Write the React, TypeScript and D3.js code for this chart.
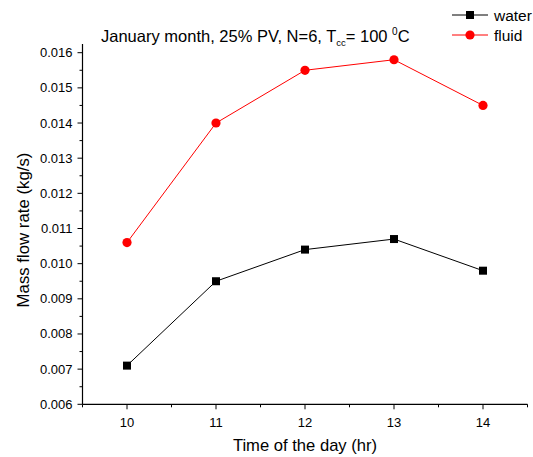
import React from "react";
import * as d3 from "d3";

const hours = [10, 11, 12, 13, 14];
const water = [0.0071, 0.0095, 0.0104, 0.0107, 0.0098];
const fluid = [0.0106, 0.014, 0.0155, 0.0158, 0.0145];
const xTicks = [10, 11, 12, 13, 14];
const yTicks = [0.006, 0.007, 0.008, 0.009, 0.01, 0.011, 0.012, 0.013, 0.014, 0.015, 0.016];

const W = 533;
const H = 457;
const font = "Arial, 'Liberation Sans', sans-serif";

export default function App() {
  const x = d3.scaleLinear().domain([9.5, 14.5]).range([82.5, 527.5]);
  const y = d3.scaleLinear().domain([0.006, 0.016]).range([404.3, 52.7]);
  const yTop = y(0.01625);
  const line = d3
    .line<number>()
    .x((_, i) => x(hours[i]))
    .y((d) => y(d));
  const xMinor = d3.range(9.5, 14.51, 0.5);
  const yMinor = d3.range(0.0065, 0.0161, 0.001);

  return (
    <div style={{ position: "absolute", left: 0, top: 0 }}>
      <svg width={W} height={H} style={{ display: "block", background: "#fff" }} fontFamily={font}>
        {/* axes */}
        <line x1={x.range()[0]} x2={x.range()[1]} y1={y(0.006)} y2={y(0.006)} stroke="#000" strokeWidth={1.2} />
        <line x1={x.range()[0]} x2={x.range()[0]} y1={y(0.006)} y2={yTop} stroke="#000" strokeWidth={1.2} />
        {xTicks.map((t) => (
          <g key={"xt" + t}>
            <line x1={x(t)} x2={x(t)} y1={y(0.006)} y2={y(0.006) + 5} stroke="#000" />
            <text x={x(t)} y={y(0.006) + 23} fontSize={13} textAnchor="middle">
              {t}
            </text>
          </g>
        ))}
        {xMinor
          .filter((t) => !xTicks.includes(t))
          .map((t) => (
            <line key={"xm" + t} x1={x(t)} x2={x(t)} y1={y(0.006)} y2={y(0.006) + 3} stroke="#000" />
          ))}
        {yTicks.map((t) => (
          <g key={"yt" + t}>
            <line x1={x.range()[0]} x2={x.range()[0] - 5} y1={y(t)} y2={y(t)} stroke="#000" />
            <text x={x.range()[0] - 10} y={y(t) + 4.5} fontSize={13} textAnchor="end">
              {t.toFixed(3)}
            </text>
          </g>
        ))}
        {yMinor.map((t) => (
          <line key={"ym" + t} x1={x.range()[0]} x2={x.range()[0] - 3} y1={y(t)} y2={y(t)} stroke="#000" />
        ))}
        {/* axis titles */}
        <text x={305} y={451} fontSize={16.6} textAnchor="middle">
          Time of the day (hr)
        </text>
        <text transform={`translate(29, 230) rotate(-90)`} fontSize={16.8} textAnchor="middle">
          Mass flow rate (kg/s)
        </text>
        {/* title */}
        <text x={101} y={41.5} fontSize={16.5}>
          January month, 25% PV, N=6, T
          <tspan fontSize={9.5} dy={4}>cc</tspan>
          <tspan dy={-4}>= 100 </tspan>
          <tspan fontSize={10} dy={-7}>0</tspan>
          <tspan dy={7}>C</tspan>
        </text>
        {/* series */}
        <path d={line(water) || ""} fill="none" stroke="#000" strokeWidth={1} />
        <path d={line(fluid) || ""} fill="none" stroke="#ff0000" strokeWidth={1} />
        {water.map((v, i) => (
          <rect key={"w" + i} x={x(hours[i]) - 4} y={y(v) - 4} width={8} height={8} fill="#000" />
        ))}
        {fluid.map((v, i) => (
          <circle key={"f" + i} cx={x(hours[i])} cy={y(v)} r={4.6} fill="#ff0000" />
        ))}
        {/* legend */}
        <line x1={452} x2={488} y1={15} y2={15} stroke="#000" />
        <rect x={466} y={11} width={8} height={8} fill="#000" />
        <text x={494} y={20.5} fontSize={15.5}>water</text>
        <line x1={452} x2={488} y1={35} y2={35} stroke="#ff0000" />
        <circle cx={470} cy={35} r={4.6} fill="#ff0000" />
        <text x={494} y={40.5} fontSize={15.5}>fluid</text>
      </svg>
    </div>
  );
}
